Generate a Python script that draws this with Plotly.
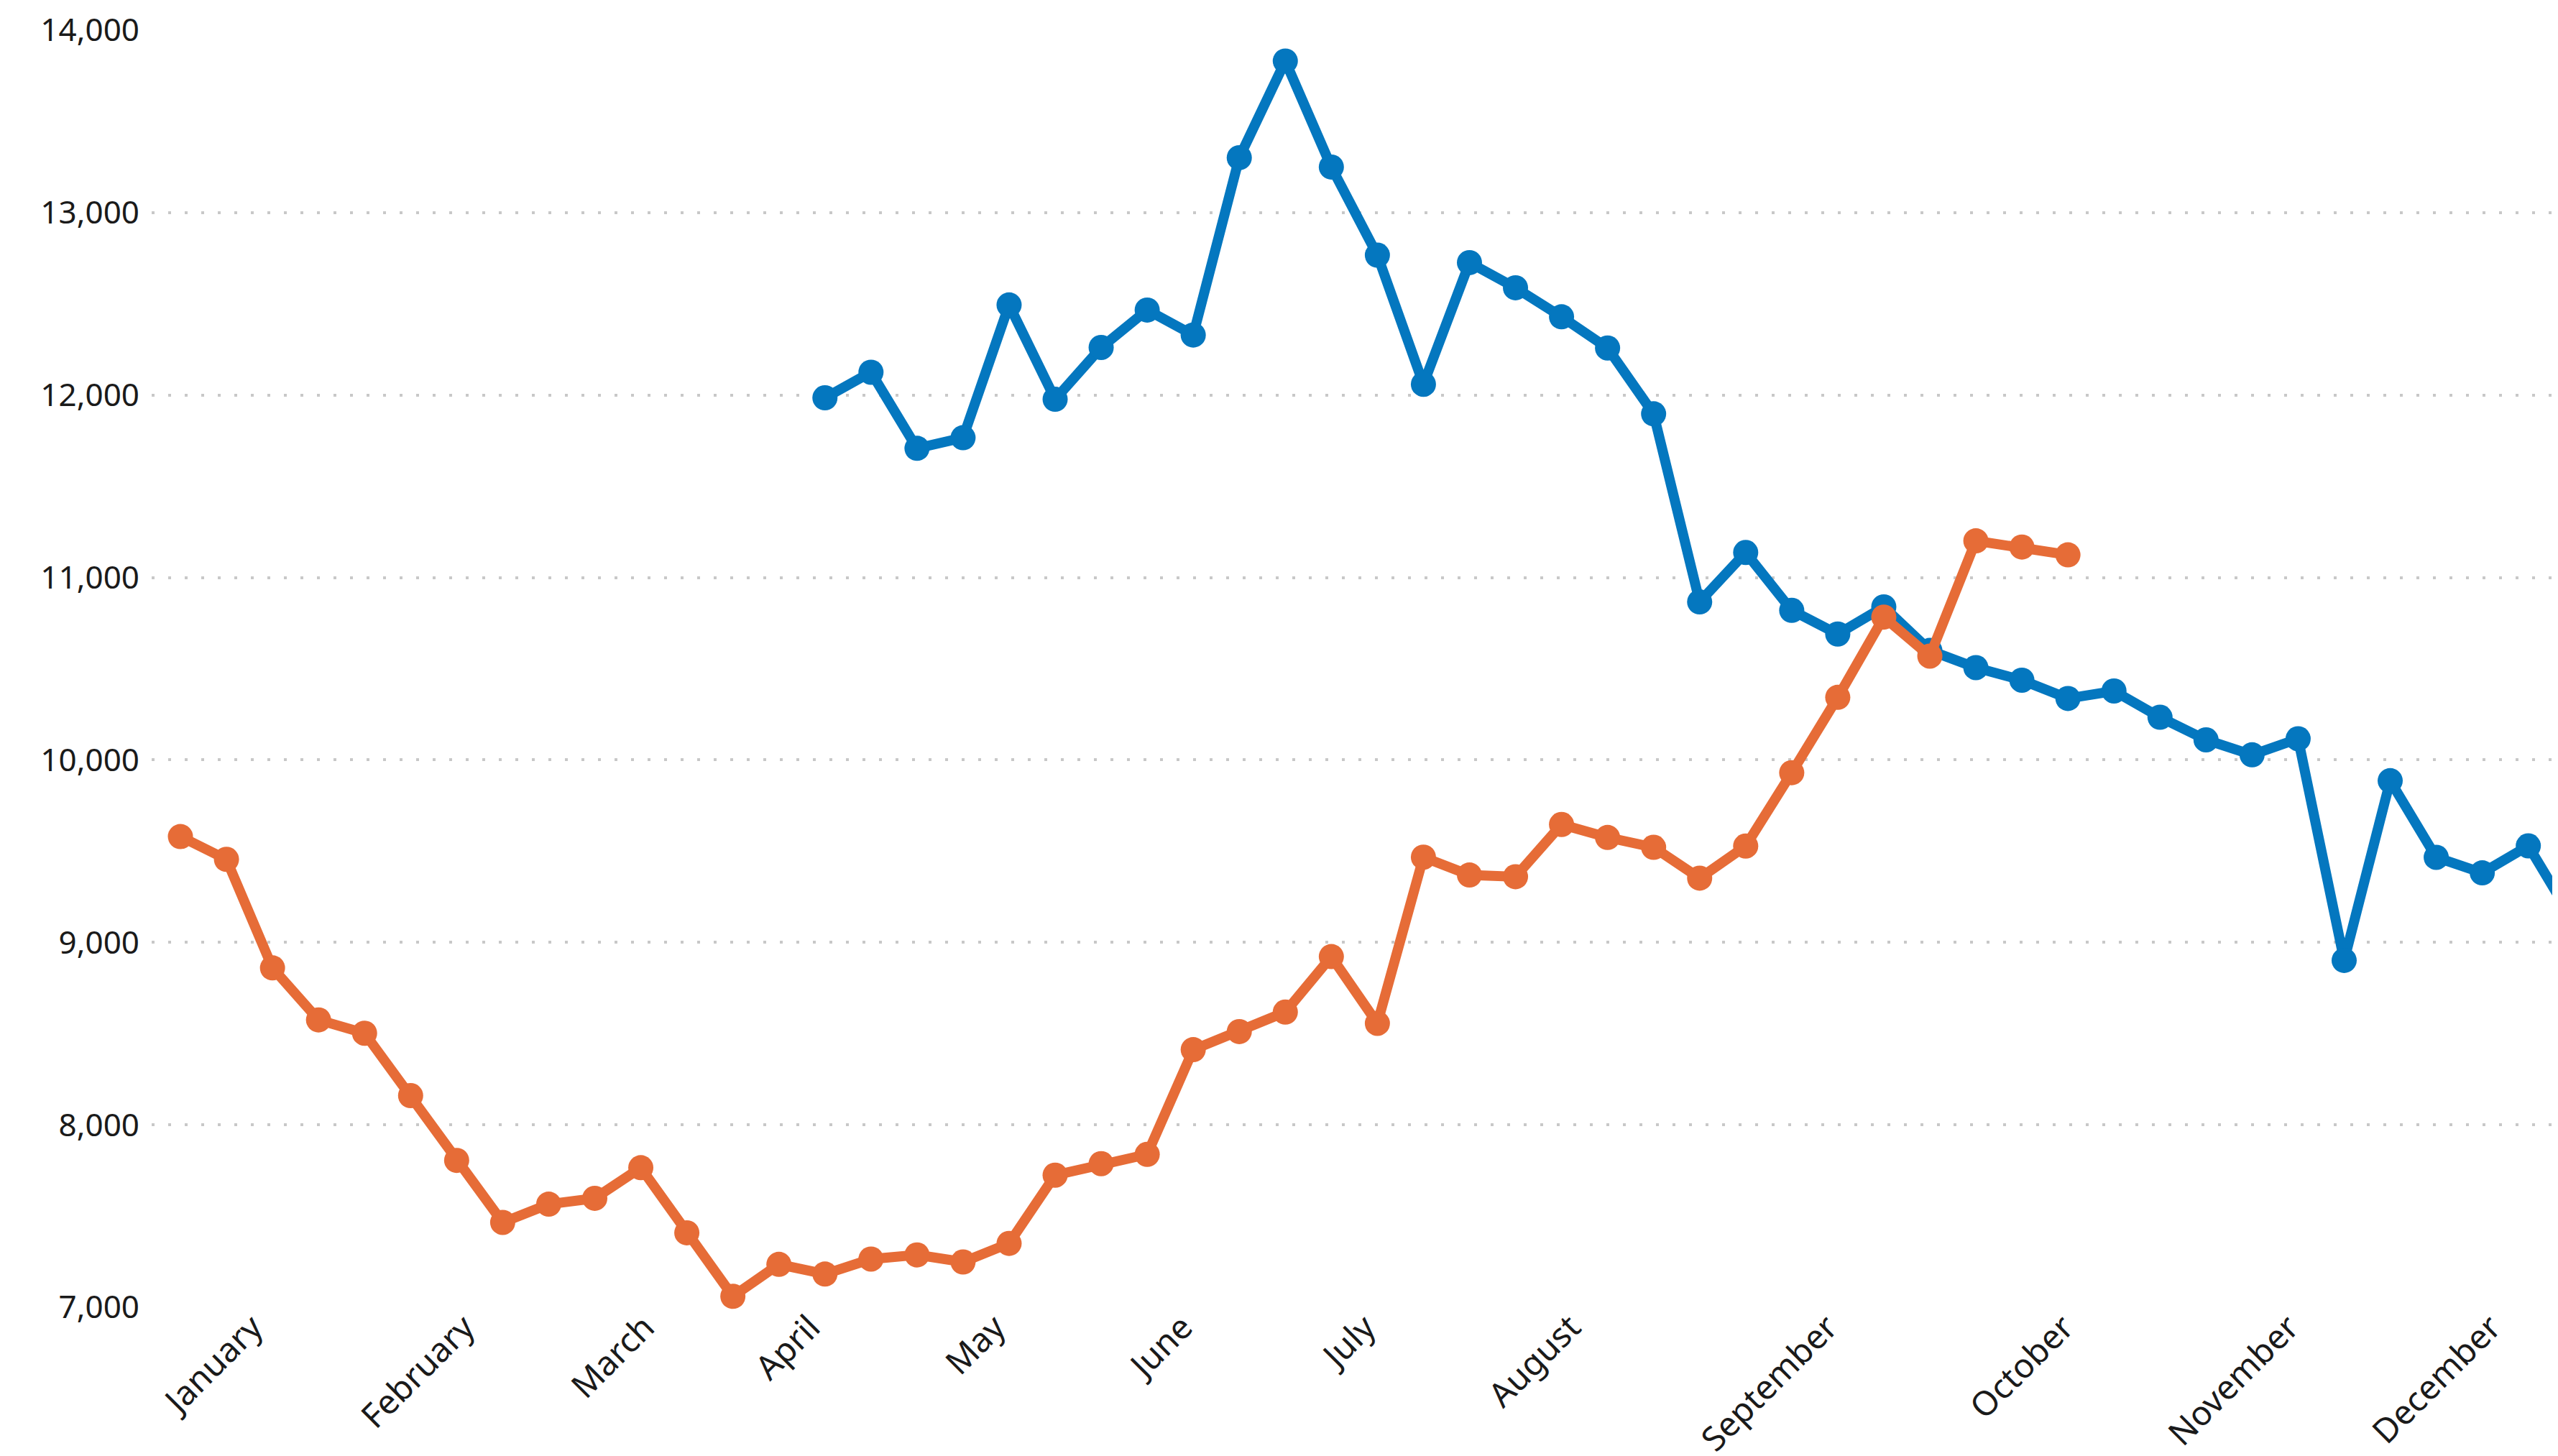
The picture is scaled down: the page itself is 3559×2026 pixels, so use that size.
import plotly.graph_objects as go

# ---- data -------------------------------------------------------------
months = ["January", "February", "March", "April", "May", "June", "July",
          "August", "September", "October", "November", "December"]
# week index at which each month label sits on the category axis
month_tick_pos = [1.57, 6.17, 10.08, 13.68, 17.70, 21.77, 25.74, 30.20,
                  35.78, 40.91, 45.80, 50.19]

orange_start_week = 0
orange_values = [9580, 9455, 8860, 8575, 8502, 8160, 7805, 7465, 7565, 7597,
                 7765, 7408, 7060, 7235, 7182, 7264, 7287, 7248, 7350, 7724,
                 7787, 7838, 8412, 8511, 8618, 8922, 8556, 9467, 9369, 9360,
                 9646, 9575, 9521, 9352, 9528, 9930, 10343, 10783, 10569,
                 11201, 11167, 11124]

blue_start_week = 14
blue_values = [11985, 12125, 11708, 11766, 12494, 11977, 12261, 12466, 12329,
               13301, 13831, 13250, 12767, 12059, 12726, 12588, 12429, 12258,
               11897, 10866, 11137, 10820, 10690, 10839, 10600, 10506, 10437,
               10337, 10378, 10234, 10110, 10028, 10116, 8901, 9886, 9466,
               9381, 9529, 9110]

y_ticks = [7000, 8000, 9000, 10000, 11000, 12000, 13000, 14000]

# ---- figure -----------------------------------------------------------
BLUE = "#0477BF"
ORANGE = "#E66C37"
FONT = "Segoe UI, Noto Sans, sans-serif"

orange_x = list(range(orange_start_week, orange_start_week + len(orange_values)))
blue_x = list(range(blue_start_week, blue_start_week + len(blue_values)))

fig = go.Figure()
fig.add_trace(go.Scatter(
    x=blue_x, y=blue_values, mode="lines+markers",
    line=dict(color=BLUE, width=14),
    marker=dict(color=BLUE, size=35),
    cliponaxis=False, showlegend=False, hoverinfo="skip"))
fig.add_trace(go.Scatter(
    x=orange_x, y=orange_values, mode="lines+markers",
    line=dict(color=ORANGE, width=14),
    marker=dict(color=ORANGE, size=35),
    cliponaxis=False, showlegend=False, hoverinfo="skip"))

fig.update_layout(
    width=3559, height=2026,
    margin=dict(l=203, r=0, t=34, b=215),
    paper_bgcolor="white", plot_bgcolor="white",
    font=dict(family=FONT, size=44, color="#1a1a1a"),
    xaxis=dict(
        range=[-0.625, 51.77], showgrid=False, zeroline=False, showline=False,
        tickmode="array", tickvals=month_tick_pos, ticktext=months,
        tickangle=-45, ticks="", tickfont=dict(size=47, color="#1a1a1a"),
        ticklabelstandoff=-10, fixedrange=True),
    yaxis=dict(
        range=[7000, 14000], tickmode="array", tickvals=y_ticks,
        tickformat=",d", showgrid=True, gridcolor="#C8C8C8", gridwidth=4,
        griddash="4px,19px", zeroline=False, showline=False, ticks="",
        ticklabelstandoff=16, tickfont=dict(size=44, color="#1a1a1a"),
        fixedrange=True),
)

fig.write_html("out.html")
